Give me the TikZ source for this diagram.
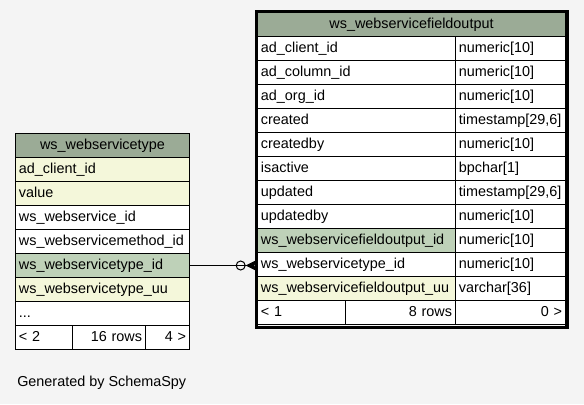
\documentclass[tikz,border=0pt]{standalone}
\usepackage{fontspec}
\setmainfont{Liberation Sans}
\usetikzlibrary{arrows.meta,calc,positioning}
\definecolor{SpyBack}{HTML}{F4F4F4}
\definecolor{SpyHead}{HTML}{9BAB96}
\definecolor{SpyKey}{HTML}{BED1B8}
\definecolor{SpyIdx}{HTML}{F4F7DA}

\begin{document}
\begin{tikzpicture}[x=.75pt,y=-.75pt,
  cell/.style={draw,line width=.75pt,anchor=north west,inner xsep=2.6pt,inner ysep=0pt,
    minimum height=18pt,minimum width=#1*.75pt,text width=#1*.75pt-5.2pt,
    text height=8pt,text depth=2.2pt,font=\fontsize{10.8}{12}\selectfont},
  plain/.style={fill=white},
  idx/.style={fill=SpyIdx},
  key/.style={fill=SpyKey},
  head/.style={fill=SpyHead,align=center}]
  \useasboundingbox[fill=SpyBack] (0,0) rectangle (584,404);
  % ws_webservicetype
  \node[cell=174,head] (lt-h) at (15,133) {ws\_webservicetype};
  \foreach \i/\name/\kind in {1/ad\_client\_id/idx,2/value/idx,3/ws\_webservice\_id/plain,
      4/ws\_webservicemethod\_id/plain,5/ws\_webservicetype\_id/key,6/ws\_webservicetype\_uu/idx} {
    \node[cell=174,\kind] (lt-\i) at (15,133+24*\i) {\name};
  }
  \node[cell=174,plain] (lt-7) at (15,301) {...};
  \node[cell=57,plain] (lt-f1) at (15,325) {< 2};
  \node[cell=73,plain,align=right] (lt-f2) at (72,325) {16 rows};
  \node[cell=44,plain,align=right] (lt-f3) at (145,325) {4 >};
  % ws_webservicefieldoutput
  \node[cell=308,head] (rt-h) at (257,12) {ws\_webservicefieldoutput};
  \foreach \i/\name/\type/\kind in {1/ad\_client\_id/numeric[10]/plain,2/ad\_column\_id/numeric[10]/plain,
      3/ad\_org\_id/numeric[10]/plain,4/created/{timestamp[29,6]}/plain,5/createdby/numeric[10]/plain,
      6/isactive/bpchar[1]/plain,7/updated/{timestamp[29,6]}/plain,8/updatedby/numeric[10]/plain,
      9/ws\_webservicefieldoutput\_id/numeric[10]/key,10/ws\_webservicetype\_id/numeric[10]/plain,
      11/ws\_webservicefieldoutput\_uu/varchar[36]/idx} {
    \node[cell=198,\kind] (rt-n\i) at (257,12+24*\i) {\name};
    \node[cell=110,plain] (rt-t\i) at (455,12+24*\i) {\type};
  }
  \node[cell=88,plain] (rt-f1) at (257,300) {< 1};
  \node[cell=110,plain,align=right] (rt-f2) at (345,300) {8 rows};
  \node[cell=110,plain,align=right] (rt-f3) at (455,300) {0 >};
  \draw[line width=2.6pt] (256.5,11.5) rectangle (567,327.5);
  % relation
  \draw[line width=.75pt,-{Circle[open,length=7.5pt,width=7.5pt]Stealth[reversed,length=8.5pt,width=8.5pt,inset=2pt]}]
    (lt-5.east) -- (lt-5.east -| rt-n10.west);
  \node[anchor=west,inner sep=0pt,font=\fontsize{10.8}{12}\selectfont] (gen) at (17,383) {Generated by SchemaSpy};
\end{tikzpicture}
\end{document}
